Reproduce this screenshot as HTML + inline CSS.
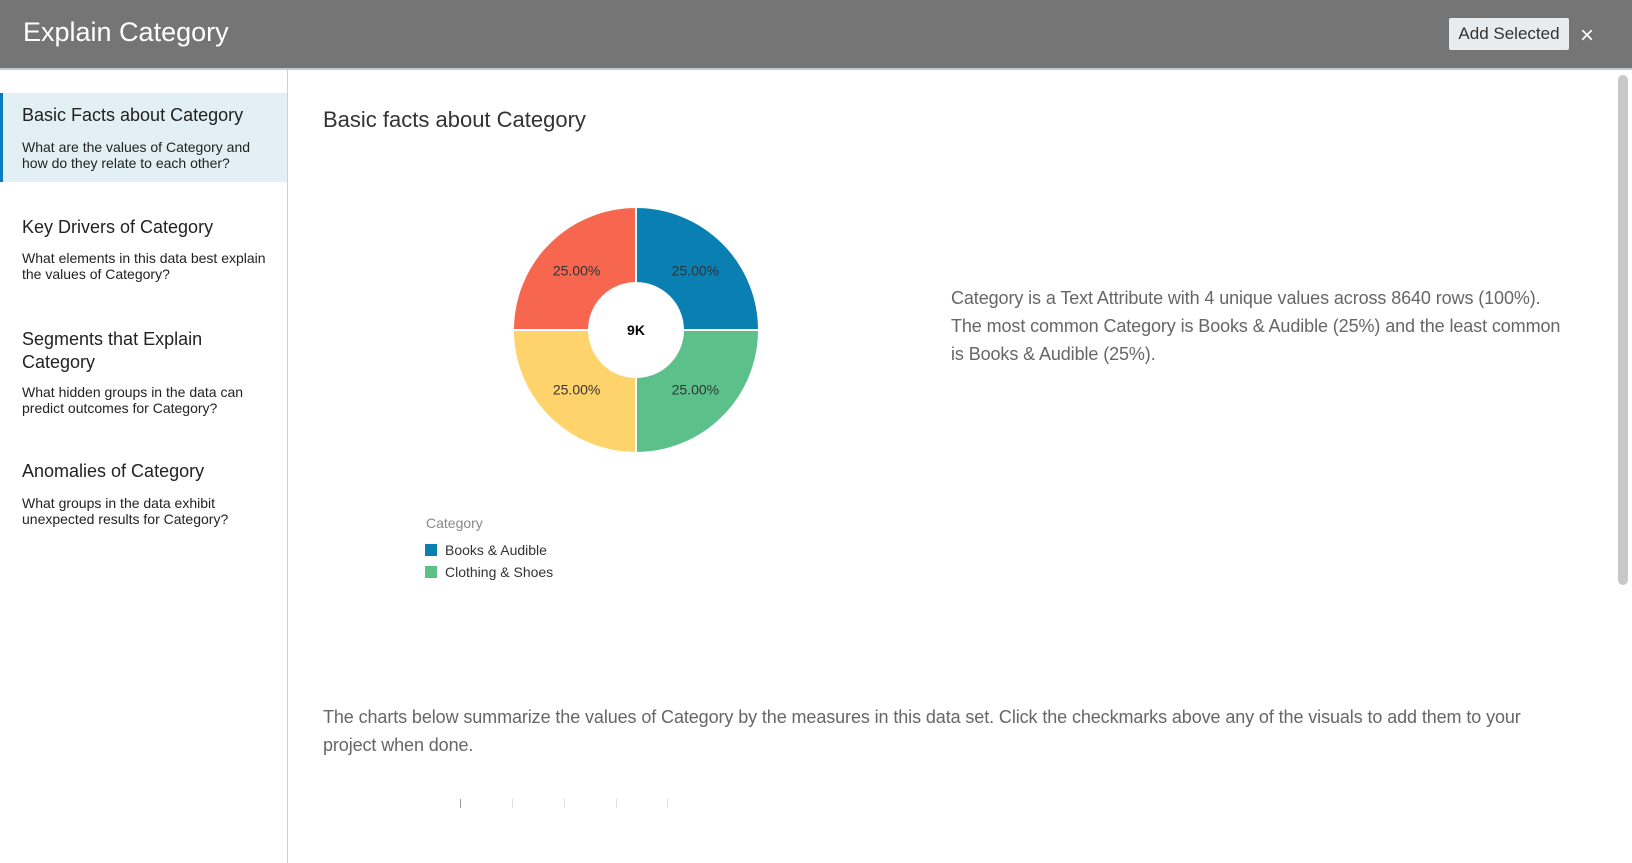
<!DOCTYPE html>
<html><head><meta charset="utf-8"><style>
*{box-sizing:border-box;margin:0;padding:0}
body{width:1632px;height:863px;overflow:hidden;background:#fff;font-family:"Liberation Sans",sans-serif;position:relative}
.abs{position:absolute;white-space:nowrap}
#header{position:absolute;left:0;top:0;width:1632px;height:70px;background:#757575;border-bottom:2px solid #c3cacf}
#sidebar{position:absolute;left:0;top:70px;width:288px;height:793px;border-right:1px solid #cfcfcf}
.item-title{font-size:18px;color:#222}
.item-sub{font-size:14px;color:#222;line-height:16px}
.para{font-size:18px;color:#666;line-height:28px;letter-spacing:-0.1px}
</style></head><body>
<div id="header">
  <div class="abs" style="left:23px;top:17px;font-size:27px;color:#fff">Explain Category</div>
  <div class="abs" style="left:1449px;top:18px;width:120px;height:32px;background:#e9ecef;border-radius:2px;font-size:17px;color:#333;line-height:32px;text-align:center">Add Selected</div>
  <div class="abs" style="left:1580px;top:22px;font-size:24px;color:#fff">×</div>
</div>
<div id="sidebar">
  <div style="position:absolute;left:0;top:23px;width:287px;height:89px;background:#e2eff4;border-left:3px solid #0a7bc1">
    <div class="abs item-title" style="left:19px;top:12px">Basic Facts about Category</div>
    <div class="abs item-sub" style="left:19px;top:46px">What are the values of Category and<br>how do they relate to each other?</div>
  </div>
  <div>
    <div class="abs item-title" style="left:22px;top:147px">Key Drivers of Category</div>
    <div class="abs item-sub" style="left:22px;top:180px">What elements in this data best explain<br>the values of Category?</div>
  </div>
  <div>
    <div class="abs item-title" style="left:22px;top:258px;line-height:23px">Segments that Explain<br>Category</div>
    <div class="abs item-sub" style="left:22px;top:314px">What hidden groups in the data can<br>predict outcomes for Category?</div>
  </div>
  <div>
    <div class="abs item-title" style="left:22px;top:391px">Anomalies of Category</div>
    <div class="abs item-sub" style="left:22px;top:425px">What groups in the data exhibit<br>unexpected results for Category?</div>
  </div>
</div>
<div class="abs" style="left:323px;top:107px;font-size:22px;color:#333">Basic facts about Category</div>
<svg id="pie" class="abs" style="left:0;top:0" width="1632" height="863"></svg>
<div class="abs para" style="left:951px;top:284px">Category is a Text Attribute with 4 unique values across 8640 rows (100%).<br>The most common Category is Books &amp; Audible (25%) and the least common<br>is Books &amp; Audible (25%).</div>
<div class="abs para" style="left:323px;top:703px">The charts below summarize the values of Category by the measures in this data set. Click the checkmarks above any of the visuals to add them to your<br>project when done.</div>
<div class="abs" style="left:460px;top:799px;width:1px;height:9px;background:#999"></div>
<div class="abs" style="left:512px;top:799px;width:1px;height:9px;background:#ddd"></div>
<div class="abs" style="left:564px;top:799px;width:1px;height:9px;background:#ddd"></div>
<div class="abs" style="left:616px;top:799px;width:1px;height:9px;background:#ddd"></div>
<div class="abs" style="left:667px;top:799px;width:1px;height:9px;background:#ddd"></div>
<div class="abs" style="left:1618px;top:75px;width:10px;height:510px;background:#c8c8c8;border-radius:5px"></div>
<script>
const categories=["Books & Audible","Clothing & Shoes","Home","Electronics"];
const values=[2160,2160,2160,2160];
const labels=["25.00%","25.00%","25.00%","25.00%"];
const colors=["#0a7fb2","#5cc08a","#ffd36c","#f7664e"];
const legendCats=["Books & Audible","Clothing & Shoes"];
const centerLabel="9K";
const NS="http://www.w3.org/2000/svg";
const svg=document.getElementById('pie');
const cx=636,cy=330,R=123,r=47,LR=84;
const total=values.reduce((a,b)=>a+b,0);
function ang(v){return v/total*Math.PI*2;}
function pt(a,rad){return [cx+rad*Math.sin(a),cy-rad*Math.cos(a)];}
let a0=0;
values.forEach((v,i)=>{
  const a1=a0+ang(v);
  const [x0,y0]=pt(a0,R),[x1,y1]=pt(a1,R),[x2,y2]=pt(a1,r),[x3,y3]=pt(a0,r);
  const lg=(a1-a0)>Math.PI?1:0;
  const p=document.createElementNS(NS,'path');
  p.setAttribute('d',`M${x0},${y0}A${R},${R} 0 ${lg} 1 ${x1},${y1}L${x2},${y2}A${r},${r} 0 ${lg} 0 ${x3},${y3}Z`);
  p.setAttribute('fill',colors[i]);p.setAttribute('stroke','#fff');p.setAttribute('stroke-width','2');
  
  
  svg.appendChild(p);
  const [lx,ly]=pt((a0+a1)/2,LR);
  const t=document.createElementNS(NS,'text');
  t.setAttribute('x',lx);t.setAttribute('y',ly+5);t.setAttribute('text-anchor','middle');
  t.setAttribute('font-size','14');t.setAttribute('fill','#333');t.setAttribute('font-family','Liberation Sans, sans-serif');
  t.textContent=labels[i];
  
  
  svg.appendChild(t);
  a0=a1;
});
const c=document.createElementNS(NS,'text');
c.setAttribute('x',cx);c.setAttribute('y',cy+5);c.setAttribute('text-anchor','middle');
c.setAttribute('font-size','14');c.setAttribute('font-weight','bold');c.setAttribute('fill','#000');c.setAttribute('font-family','Liberation Sans, sans-serif');
c.textContent=centerLabel;


svg.appendChild(c);
const lt=document.createElementNS(NS,'text');
lt.setAttribute('x',426);lt.setAttribute('y',528);lt.setAttribute('font-size','14');lt.setAttribute('fill','#888');lt.setAttribute('font-family','Liberation Sans, sans-serif');
lt.textContent="Category";


svg.appendChild(lt);
legendCats.forEach((n,i)=>{
  const y=544+i*22;
  const s=document.createElementNS(NS,'rect');
  s.setAttribute('x',425);s.setAttribute('y',y);s.setAttribute('width',12);s.setAttribute('height',12);
  s.setAttribute('fill',colors[categories.indexOf(n)]);
  
  
  svg.appendChild(s);
  const t=document.createElementNS(NS,'text');
  t.setAttribute('x',445);t.setAttribute('y',y+11);t.setAttribute('font-size','14');t.setAttribute('fill','#333');t.setAttribute('font-family','Liberation Sans, sans-serif');
  t.textContent=n;
  
  
  svg.appendChild(t);
});
</script>
</body></html>
